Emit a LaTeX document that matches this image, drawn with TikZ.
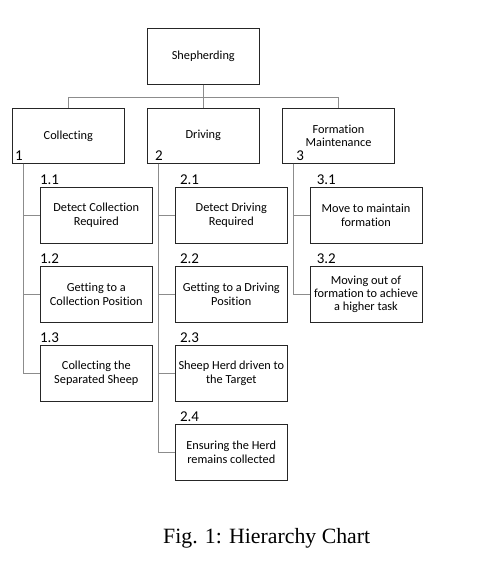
\documentclass[tikz,border=0pt]{standalone}
\usepackage{fontspec}
\setmainfont[Ligatures=NoCommon]{Carlito}
\newfontfamily\capfont{Liberation Serif}
\begin{document}
\begin{tikzpicture}[x=1pt,y=-1pt,
  box/.style={draw=black!85,line width=0.8pt,minimum width=112pt,minimum height=56pt,align=center,inner sep=1pt,font=\fontsize{12.3}{13.4}\selectfont},
  conn/.style={draw=black!45,line width=0.9pt},
  num/.style={inner sep=0pt,font=\fontsize{15}{15}\selectfont},
  lab/.style={inner sep=0pt,anchor=south west,font=\fontsize{15}{15}\selectfont}]
\useasboundingbox (0,0) rectangle (493,572);
% top
\node[box] (s) at (203.3,56.3) {Shepherding};
\node[box,minimum height=55pt] (col) at (68.3,135.8) {Collecting};
\node[box,minimum height=55pt] (drv) at (203.3,135.8) {Driving};
\node[box,minimum height=55pt] (frm) at (338.5,135.8) {Formation\\Maintenance};
\node[num,anchor=south west] (n1) at ([xshift=3pt,yshift=3pt]col.south west) {1};
\node[num,anchor=south west] (n2) at ([xshift=8pt,yshift=3pt]drv.south west) {2};
\node[num,anchor=south west] (n3) at ([xshift=14pt,yshift=3pt]frm.south west) {3};
% level 2
\node[box] (c11) at (96.3,215.3) {Detect Collection\\Required};
\node[box] (c12) at (96.3,294.3) {Getting to a\\Collection Position};
\node[box] (c13) at (96.3,373.2) {Collecting the\\Separated Sheep};
\node[box] (c21) at (231.3,215.3) {Detect Driving\\Required};
\node[box] (c22) at (231.3,294.3) {Getting to a Driving\\Position};
\node[box] (c23) at (231.3,373.2) {Sheep Herd driven to\\the Target};
\node[box] (c24) at (231.3,452.2) {Ensuring the Herd\\remains collected};
\node[box] (c31) at (366,215.3) {Move to maintain\\formation};
\node[box] (c32) at (366,294.3) {Moving out of\\formation to achieve\\a higher task};
% labels
\node[lab] (l11) at ([yshift=2pt]c11.north west) {1.1};
\node[lab] (l12) at ([yshift=2pt]c12.north west) {1.2};
\node[lab] (l13) at ([yshift=2pt]c13.north west) {1.3};
\node[lab] (l21) at ([xshift=5pt,yshift=2pt]c21.north west) {2.1};
\node[lab] (l22) at ([xshift=5pt,yshift=2pt]c22.north west) {2.2};
\node[lab] (l23) at ([xshift=5pt,yshift=2pt]c23.north west) {2.3};
\node[lab] (l24) at ([xshift=5pt,yshift=2pt]c24.north west) {2.4};
\node[lab] (l31) at ([xshift=7pt,yshift=2pt]c31.north west) {3.1};
\node[lab] (l32) at ([xshift=7pt,yshift=2pt]c32.north west) {3.2};
% connectors
\coordinate (bar) at (203.3,97.3);
\draw[conn] (col.north) |- (bar) -| (frm.north);
\draw[conn] (s.south) -- (drv.north);
\coordinate (sp1) at ([xshift=11.7pt]col.south west);
\coordinate (sp2) at ([xshift=12pt]drv.south west);
\coordinate (sp3) at ([xshift=11.8pt]frm.south west);
\draw[conn] (sp1) |- (c11.west);
\draw[conn] (sp1) |- (c12.west);
\draw[conn] (sp1) |- (c13.west);
\draw[conn] (sp2) |- (c21.west);
\draw[conn] (sp2) |- (c22.west);
\draw[conn] (sp2) |- (c23.west);
\draw[conn] (sp2) |- (c24.west);
\draw[conn] (sp3) |- (c31.west);
\draw[conn] (sp3) |- (c32.west);
% caption
\node[inner sep=0pt,anchor=base,font=\capfont\fontsize{21.8}{24}\selectfont] (cap) at (266.7,543) {Fig. 1: Hierarchy Chart};
\end{tikzpicture}
\end{document}
